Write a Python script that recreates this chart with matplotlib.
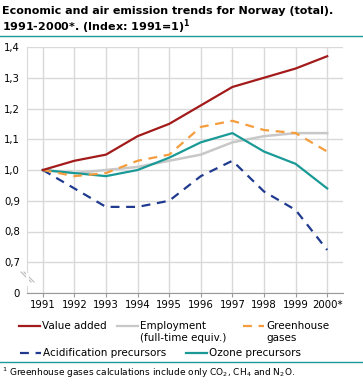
import matplotlib
matplotlib.use("Agg")
import matplotlib.pyplot as plt
from matplotlib.lines import Line2D

plt.rcParams['font.family'] = ['DejaVu Sans']

years = [1991, 1992, 1993, 1994, 1995, 1996, 1997, 1998, 1999, 2000]
year_labels = ["1991", "1992", "1993", "1994", "1995", "1996", "1997", "1998", "1999", "2000*"]

value_added = [1.00, 1.03, 1.05, 1.11, 1.15, 1.21, 1.27, 1.30, 1.33, 1.37]
employment = [1.00, 0.99, 1.00, 1.01, 1.03, 1.05, 1.09, 1.11, 1.12, 1.12]
greenhouse = [1.00, 0.98, 0.99, 1.03, 1.05, 1.14, 1.16, 1.13, 1.12, 1.06]
acidification = [1.00, 0.94, 0.88, 0.88, 0.90, 0.98, 1.03, 0.93, 0.87, 0.74]
ozone = [1.00, 0.99, 0.98, 1.00, 1.04, 1.09, 1.12, 1.06, 1.02, 0.94]

y_ticks = [0.6, 0.7, 0.8, 0.9, 1.0, 1.1, 1.2, 1.3, 1.4]
y_labels = ["0", "0,7", "0,8", "0,9", "1,0", "1,1", "1,2", "1,3", "1,4"]

W, H = 363, 385
fig = plt.figure(figsize=(W / 100, H / 100), dpi=100)
ax = fig.add_axes([27 / W, 1 - 293 / H, (343 - 27) / W, (293 - 47) / H])

c_red = "#a31a1a"
c_grey = "#c8c8c8"
c_orange = "#f59d3d"
c_blue = "#1f3a8f"
c_teal = "#1a9a96"

ax.plot(years, employment, color=c_grey, lw=1.8)
ax.plot(years, acidification, color=c_blue, lw=1.6, dashes=(4, 3))
ax.plot(years, ozone, color=c_teal, lw=1.6)
ax.plot(years, greenhouse, color=c_orange, lw=1.6, dashes=(4, 3))
ax.plot(years, value_added, color=c_red, lw=1.6)

ax.set_xlim(1990.5, 2000.5)
ax.set_ylim(0.6, 1.4)
ax.set_xticks(years)
ax.set_xticklabels(year_labels, fontsize=7.3)
ax.set_yticks(y_ticks)
ax.set_yticklabels(y_labels, fontsize=7.3)
ax.tick_params(axis="y", length=0, pad=5)
ax.tick_params(axis="x", length=3, color="#999999", pad=2)
ax.grid(True, color="#d9d9d9", lw=1)
ax.set_axisbelow(True)
for s in ["top", "right"]:
    ax.spines[s].set_visible(False)
ax.spines["left"].set_color("#d9d9d9")
ax.spines["bottom"].set_color("#999999")
ax.spines["bottom"].set_linewidth(0.8)

# axis break marks
for dx in (0, 3):
    fig.add_artist(Line2D([(21 + dx) / W, (31 + dx) / W], [1 - 272 / H, 1 - 282 / H],
                          color="#bbbbbb", lw=0.8))
fig.add_artist(Line2D([27 / W, 27 / W], [1 - 274 / H, 1 - 284 / H], color="white", lw=2))

# title
fig.text(2 / W, 1 - 11 / H, "Economic and air emission trends for Norway (total).",
         fontsize=8.0, fontweight="bold", va="center", ha="left")
fig.text(2 / W, 1 - 27 / H, r"1991-2000*. (Index: 1991=1)$^\mathbf{1}$",
         fontsize=8.0, fontweight="bold", va="center", ha="left")
fig.add_artist(Line2D([0, 1], [1 - 36 / H, 1 - 36 / H], color=c_teal, lw=1))

# legend
def legend_item(x0, y, color, dashed, label):
    ln = Line2D([x0 / W, (x0 + 21) / W], [1 - y / H, 1 - y / H], color=color, lw=1.6)
    if dashed:
        ln.set_dashes((4, 3))
    fig.add_artist(ln)
    fig.text((x0 + 23) / W, 1 - y / H, label, fontsize=7.5, va="center", ha="left")

legend_item(19, 326, c_red, False, "Value added")
legend_item(117, 326, c_grey, False, "Employment")
fig.text(140 / W, 1 - 338 / H, "(full-time equiv.)", fontsize=7.5, va="center", ha="left")
legend_item(243, 326, c_orange, True, "Greenhouse")
fig.text(266 / W, 1 - 338 / H, "gases", fontsize=7.5, va="center", ha="left")
legend_item(20, 353, c_blue, True, "Acidification precursors")
legend_item(186, 353, c_teal, False, "Ozone precursors")

fig.add_artist(Line2D([0, 1], [1 - 362 / H, 1 - 362 / H], color=c_teal, lw=1))
fig.text(2 / W, 1 - 373 / H,
         r"$^1$ Greenhouse gases calculations include only CO$_2$, CH$_4$ and N$_2$O.",
         fontsize=6.5, va="center", ha="left")

fig.savefig("out.png", dpi=100)
